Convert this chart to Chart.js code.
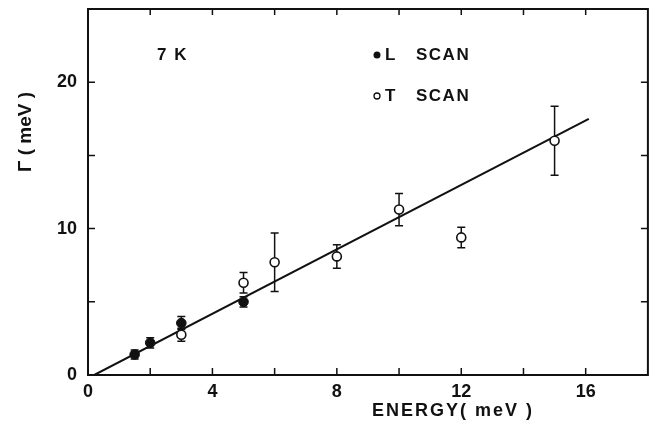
<!DOCTYPE html>
<html>
<head>
<meta charset="utf-8">
<script src="https://cdn.jsdelivr.net/npm/chart.js@4"></script>
<style>
  html, body { margin: 0; padding: 0; background: #fff; }
</style>
</head>
<body>
<canvas id="chart" width="654" height="432"></canvas>
<script>
// Linewidth vs. energy at 7 K
const energyL = [1.5, 2, 3, 5];
const gammaL  = [1.4, 2.2, 3.55, 5.0];
const errL    = [0.3, 0.35, 0.45, 0.35];

const energyT = [3, 5, 6, 8, 10, 12, 15];
const gammaT  = [2.75, 6.3, 7.7, 8.1, 11.3, 9.4, 16.0];
const errT    = [0.45, 0.7, 2.0, 0.8, 1.1, 0.7, 2.35];

// straight-line fit through the data
const fitX = [0.2, 16.1];
const fitY = [0, 17.5];

const xTickLabels = [0, 4, 8, 12, 16];
const yTickLabels = [0, 10, 20];

const INK = '#111';
const FAMILY = '"Liberation Sans", Arial, sans-serif';

function pts(xs, ys) { return xs.map((x, i) => ({ x: x, y: ys[i] })); }

// vertical error bars with caps, drawn beneath the markers
const errorBars = {
  id: 'errorBars',
  beforeDatasetsDraw(chart) {
    const { ctx, scales: { x, y } } = chart;
    ctx.save();
    ctx.strokeStyle = INK;
    ctx.lineWidth = 1.5;
    chart.data.datasets.forEach(ds => {
      if (!ds.errors) return;
      ds.data.forEach((p, i) => {
        const e = ds.errors[i];
        const px = x.getPixelForValue(p.x);
        const top = y.getPixelForValue(p.y + e);
        const bot = y.getPixelForValue(p.y - e);
        ctx.beginPath();
        ctx.moveTo(px, top); ctx.lineTo(px, bot);
        ctx.moveTo(px - 4, top); ctx.lineTo(px + 4, top);
        ctx.moveTo(px - 4, bot); ctx.lineTo(px + 4, bot);
        ctx.stroke();
      });
    });
    ctx.restore();
  }
};

// closed frame with inward tick marks, axis titles and key
const frame = {
  id: 'frame',
  afterDraw(chart) {
    const { ctx, chartArea: a, scales: { x, y } } = chart;
    ctx.save();
    ctx.strokeStyle = INK;
    ctx.lineWidth = 2;
    ctx.strokeRect(a.left, a.top, a.right - a.left, a.bottom - a.top);

    ctx.lineWidth = 1.5;
    ctx.beginPath();
    x.ticks.forEach(t => {
      const px = x.getPixelForValue(t.value);
      if (t.value <= x.min || t.value >= x.max) return;
      ctx.moveTo(px, a.bottom); ctx.lineTo(px, a.bottom - 7);
      ctx.moveTo(px, a.top); ctx.lineTo(px, a.top + 6);
    });
    y.ticks.forEach(t => {
      const py = y.getPixelForValue(t.value);
      if (t.value <= y.min || t.value >= y.max) return;
      ctx.moveTo(a.left, py); ctx.lineTo(a.left + 7, py);
      ctx.moveTo(a.right, py); ctx.lineTo(a.right - 7, py);
    });
    ctx.stroke();

    ctx.fillStyle = INK;
    ctx.textBaseline = 'middle';

    // x-axis title
    ctx.font = 'bold 18px ' + FAMILY;
    ctx.textAlign = 'center';
    ctx.letterSpacing = '2px';
    ctx.fillText('ENERGY( meV )', 453, 411);

    // y-axis title
    ctx.save();
    ctx.translate(26, 132);
    ctx.rotate(-Math.PI / 2);
    ctx.letterSpacing = '0px';
    ctx.font = 'bold 19px ' + FAMILY;
    ctx.fillText('\u0393 ( meV )', 0, 0);
    ctx.restore();

    // temperature and key
    ctx.font = 'bold 17px ' + FAMILY;
    ctx.textAlign = 'left';
    ctx.letterSpacing = '1.5px';
    ctx.fillText('7 K', 157, 55);
    ctx.fillText('L', 385, 55);
    ctx.fillText('SCAN', 416, 55);
    ctx.fillText('T', 385, 96);
    ctx.fillText('SCAN', 416, 96);

    ctx.beginPath();
    ctx.arc(377, 55, 3.5, 0, Math.PI * 2);
    ctx.fill();
    ctx.beginPath();
    ctx.lineWidth = 1.3;
    ctx.arc(377, 96, 3, 0, Math.PI * 2);
    ctx.stroke();
    ctx.restore();
  }
};

new Chart(document.getElementById('chart'), {
  type: 'scatter',
  data: {
    datasets: [
      {
        label: 'fit',
        type: 'line',
        data: pts(fitX, fitY),
        borderColor: INK,
        borderWidth: 2,
        pointRadius: 0,
        fill: false,
        order: 3
      },
      {
        label: 'L SCAN',
        data: pts(energyL, gammaL),
        errors: errL,
        pointRadius: 4.8,
        pointBackgroundColor: INK,
        pointBorderColor: INK,
        pointBorderWidth: 1,
        order: 1
      },
      {
        label: 'T SCAN',
        data: pts(energyT, gammaT),
        errors: errT,
        pointRadius: 4.5,
        pointBackgroundColor: '#fff',
        pointBorderColor: INK,
        pointBorderWidth: 1.6,
        order: 2
      }
    ]
  },
  options: {
    responsive: false,
    animation: false,
    devicePixelRatio: 1,
    layout: { padding: { top: 9, right: 4, left: 0, bottom: 0 } },
    plugins: { legend: { display: false }, tooltip: { enabled: false } },
    scales: {
      x: {
        type: 'linear',
        min: 0, max: 18,
        grid: { display: false, drawTicks: false },
        border: { display: false },
        afterFit(s) { s.height = 57; s.paddingLeft = 0; s.paddingRight = 0; },
        ticks: {
          stepSize: 2,
          padding: 6,
          color: INK,
          font: { family: FAMILY, size: 18, weight: 'bold' },
          callback: v => xTickLabels.includes(v) ? String(v) : ''
        }
      },
      y: {
        type: 'linear',
        min: 0, max: 25,
        grid: { display: false, drawTicks: false },
        border: { display: false },
        afterFit(s) { s.width = 88; s.paddingTop = 0; s.paddingBottom = 0; },
        ticks: {
          stepSize: 5,
          padding: 11,
          color: INK,
          font: { family: FAMILY, size: 18, weight: 'bold' },
          callback: v => yTickLabels.includes(v) ? String(v) : ''
        }
      }
    }
  },
  plugins: [errorBars, frame]
});
</script>
</body>
</html>
